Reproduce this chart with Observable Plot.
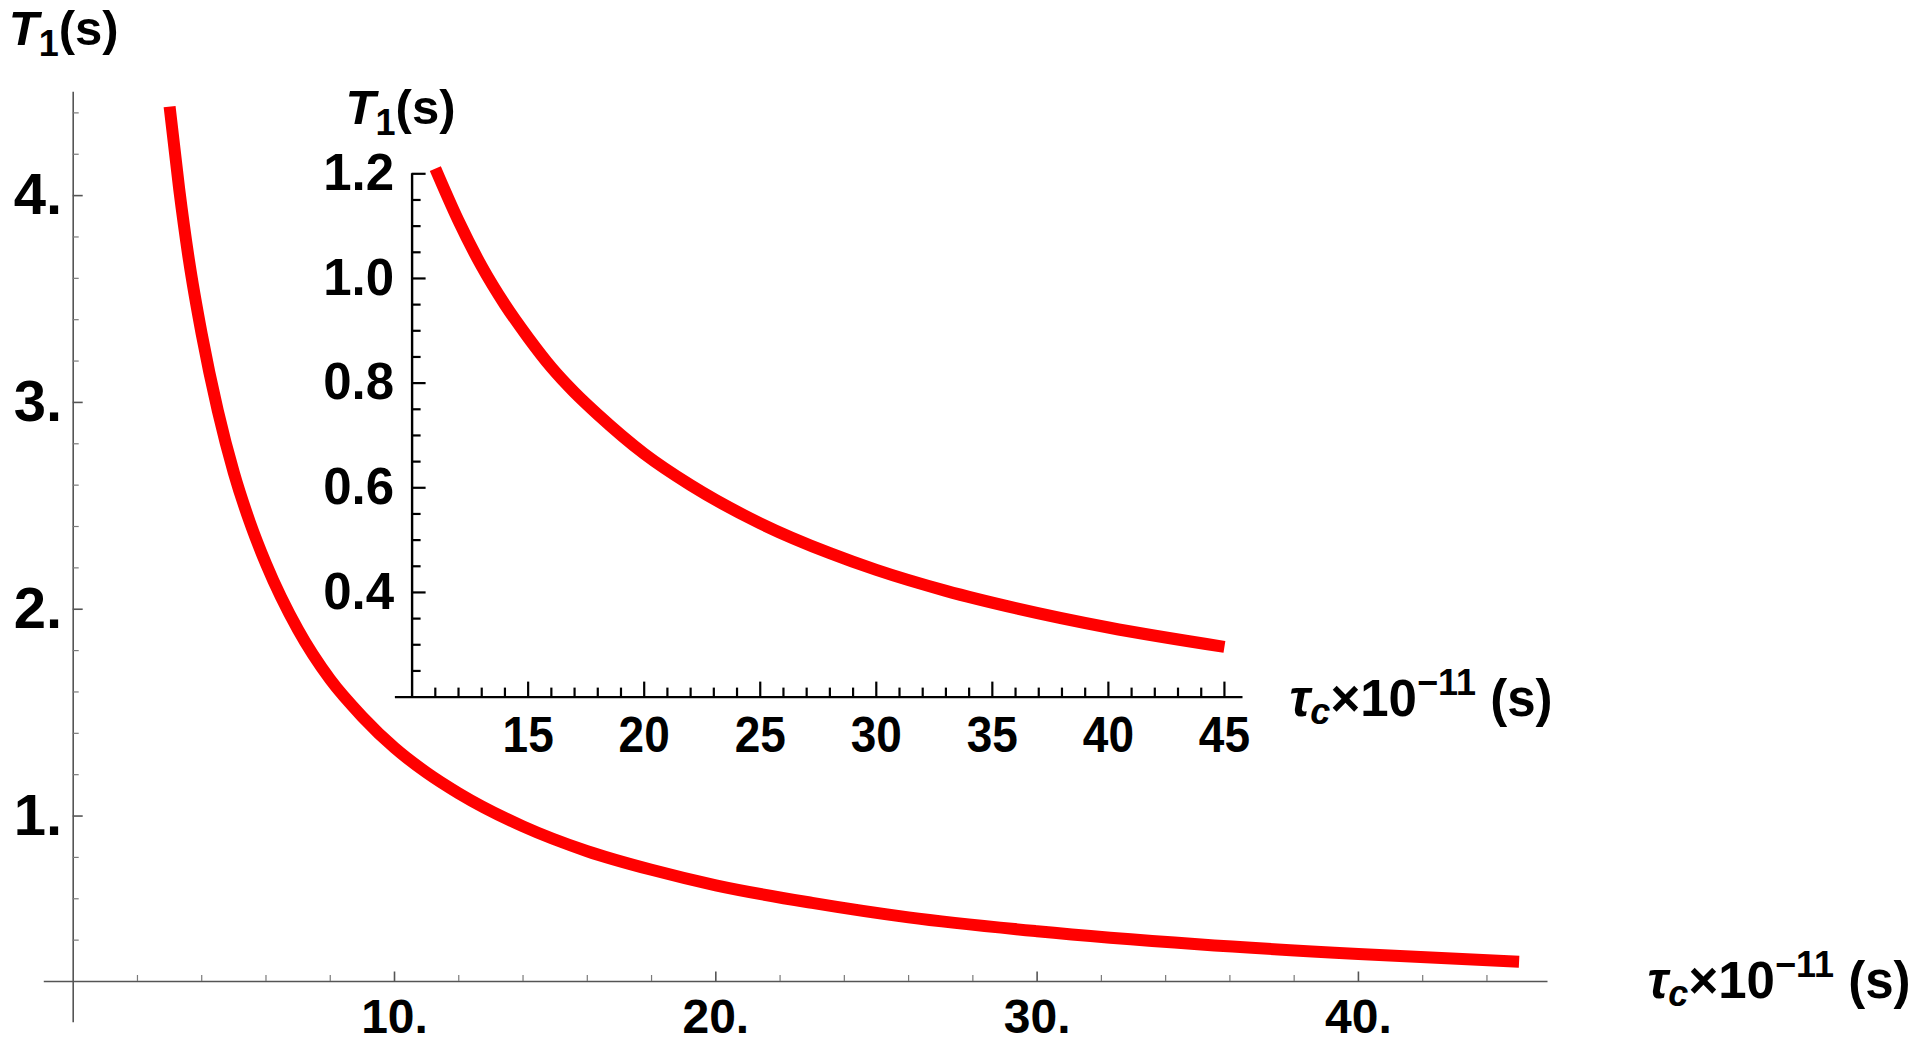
<!DOCTYPE html>
<html>
<head>
<meta charset="utf-8">
<script src="https://cdn.jsdelivr.net/npm/d3@7"></script>
<script src="https://cdn.jsdelivr.net/npm/@observablehq/plot@0.6"></script>
<style>
  html, body { margin: 0; padding: 0; background: #fff; }
  #wrap { position: relative; width: 1920px; height: 1045px; overflow: hidden; background: #fff; }
  #wrap svg { position: absolute; left: 0; top: 0; }
</style>
</head>
<body>
<div id="wrap"></div>
<script>
// ---------- data ----------
const mainTau = [3.0, 3.3, 3.6, 4.0, 4.5, 5.0, 5.5, 6.0, 7.0, 8.0, 9.0, 10.0, 11.0, 12.0, 14.0, 16.0, 18.0, 20.0, 23.0, 26.0, 30.0, 35.0, 40.0, 45.0];
const mainT1  = [4.43, 4.03, 3.69, 3.33, 2.96, 2.66, 2.42, 2.22, 1.90, 1.66, 1.48, 1.33, 1.21, 1.11, 0.95, 0.83, 0.74, 0.665, 0.58, 0.51, 0.443, 0.38, 0.333, 0.296];

const insetTau = [11.0, 12.0, 13.0, 14.0, 15.0, 16.0, 17.0, 18.0, 20.0, 22.0, 25.0, 28.0, 30.0, 33.0, 36.0, 40.0, 45.0];
const insetT1  = [1.21, 1.11, 1.023, 0.95, 0.887, 0.83, 0.782, 0.74, 0.665, 0.605, 0.532, 0.475, 0.443, 0.403, 0.37, 0.333, 0.296];

const mainXTicks = [10, 20, 30, 40];
const mainXTickLabels = ["10.", "20.", "30.", "40."];
const mainYTicks = [1, 2, 3, 4];
const mainYTickLabels = ["1.", "2.", "3.", "4."];

const insetXTicks = [15, 20, 25, 30, 35, 40, 45];
const insetXTickLabels = ["15", "20", "25", "30", "35", "40", "45"];
const insetYTicks = [0.4, 0.6, 0.8, 1.0, 1.2];
const insetYTickLabels = ["0.4", "0.6", "0.8", "1.0", "1.2"];

// minor ticks
const mainXMinor = d3.range(2, 46, 2).filter(v => v % 10 !== 0);
const mainYMinor = d3.range(2, 23).map(k => k / 5).filter(v => Math.abs(v - Math.round(v)) > 1e-6);
const insetXMinor = d3.range(11, 46).filter(v => v % 5 !== 0);
const insetYMinor = d3.range(5, 25).map(k => k / 20).filter(v => Math.abs(v * 5 - Math.round(v * 5)) > 1e-6);

const mainData = mainTau.map((t, i) => ({tau: t, t1: mainT1[i]}));
const insetData = insetTau.map((t, i) => ({tau: t, t1: insetT1[i]}));

// ---------- layout ----------
const W = 1920, H = 1045;
const FONT = "'Liberation Sans', Arial, Helvetica, sans-serif";
const RED = "#ff0000";

// main plot frame
const mL = 72.7, mR = 372.5, mT = 91.7, mB = 64;
const mFW = W - mL - mR, mFH = H - mT - mB;
const AX = "#555555", AXMINOR = "#7a7a7a";

const mainPlot = Plot.plot({
  width: W, height: H,
  marginLeft: mL, marginRight: mR, marginTop: mT, marginBottom: mB,
  style: {fontFamily: FONT, fontWeight: "bold", fontSize: "48px", color: "#000", background: "transparent", overflow: "visible"},
  x: {domain: [0, 45.9], ticks: mainXTicks, tickFormat: d => mainXTickLabels[mainXTicks.indexOf(d)], tickSize: 0, tickPadding: 17, label: null},
  y: {domain: [0.2, 4.5], ticks: mainYTicks, tickFormat: d => mainYTickLabels[mainYTicks.indexOf(d)], tickSize: 0, tickPadding: 11, label: null},
  marks: [
    Plot.ruleY([0.2], {x1: -0.9, x2: 45.9, stroke: AX, strokeWidth: 1.6}),
    Plot.ruleX([0], {y1: 0, y2: 4.5, stroke: AX, strokeWidth: 1.6}),
    Plot.tickX(mainXMinor, {x: d => d, insetTop: mFH - 6, stroke: AXMINOR, strokeWidth: 1.2}),
    Plot.tickX(mainXTicks, {x: d => d, insetTop: mFH - 9.5, stroke: AX, strokeWidth: 1.6}),
    Plot.tickY(mainYMinor, {y: d => d, insetRight: mFW - 6, stroke: AXMINOR, strokeWidth: 1.2}),
    Plot.tickY(mainYTicks, {y: d => d, insetRight: mFW - 10, stroke: AX, strokeWidth: 1.6}),
    Plot.line(mainData, {x: "tau", y: "t1", stroke: RED, strokeWidth: 12, curve: "monotone-x", strokeLinecap: "butt", strokeLinejoin: "round"})
  ]
});

// inset plot frame
const iL = 411.6, iR = 677.5, iT = 173.3, iB = 348.4;
const iFW = W - iL - iR, iFH = H - iT - iB;

const insetPlot = Plot.plot({
  width: W, height: H,
  marginLeft: iL, marginRight: iR, marginTop: iT, marginBottom: iB,
  style: {fontFamily: FONT, fontWeight: "bold", fontSize: "50px", color: "#000", background: "transparent", overflow: "visible"},
  x: {domain: [10, 45.8], ticks: insetXTicks, tickFormat: d => insetXTickLabels[insetXTicks.indexOf(d)], tickSize: 0, tickPadding: 19, label: null},
  y: {domain: [0.2, 1.2], ticks: insetYTicks, tickFormat: d => insetYTickLabels[insetYTicks.findIndex(v => Math.abs(v - d) < 1e-9)], tickSize: 0, tickPadding: 18, label: null},
  marks: [
    Plot.ruleY([0.2], {x1: 9.28, x2: 45.8, stroke: "#000", strokeWidth: 2.4}),
    Plot.ruleX([10], {y1: 0.2, y2: 1.2, stroke: "#000", strokeWidth: 2.4}),
    Plot.tickX(insetXMinor, {x: d => d, insetTop: iFH - 9, stroke: "#000", strokeWidth: 2.2}),
    Plot.tickX(insetXTicks, {x: d => d, insetTop: iFH - 15, stroke: "#000", strokeWidth: 2.2}),
    Plot.tickY(insetYMinor, {y: d => d, insetRight: iFW - 9, stroke: "#000", strokeWidth: 2.2}),
    Plot.tickY(insetYTicks, {y: d => d, insetRight: iFW - 14, stroke: "#000", strokeWidth: 2.2}),
    Plot.line(insetData, {x: "tau", y: "t1", stroke: RED, strokeWidth: 12, curve: "monotone-x", strokeLinecap: "butt", strokeLinejoin: "round"})
  ]
});

const wrap = document.getElementById("wrap");
wrap.appendChild(mainPlot);
wrap.appendChild(insetPlot);

// tick label styling
function styleTicks(svgNode, xSize, xScaleX, ySize) {
  const s = d3.select(svgNode);
  s.selectAll('g[aria-label^="x-axis"] text')
    .style("font-size", xSize + "px").style("font-weight", "bold").style("font-family", FONT).attr("fill", "#000")
    .attr("transform", function () { return (this.getAttribute("transform") || "") + ` scale(${xScaleX},1)`; });
  s.selectAll('g[aria-label^="y-axis"] text')
    .style("font-size", ySize + "px").style("font-weight", "bold").style("font-family", FONT).attr("fill", "#000");
}
styleTicks(mainPlot, 48, 1, 58);
styleTicks(insetPlot, 50, 0.92, 51);

// axis titles (real text with sub/superscripts)
function t1Label(svgNode, x, y) {
  const t = d3.select(svgNode).append("text")
    .attr("x", x).attr("y", y).attr("text-anchor", "start")
    .style("font-family", FONT).style("font-weight", "bold").style("font-size", "49px").attr("fill", "#000");
  t.append("tspan").style("font-style", "italic").text("T");
  t.append("tspan").style("font-size", "36px").attr("dy", 11).text("1");
  t.append("tspan").attr("dy", -11).text("(s)");
}
function tauLabel(svgNode, x, y) {
  const t = d3.select(svgNode).append("text")
    .attr("x", x).attr("y", y).attr("text-anchor", "start")
    .style("font-family", FONT).style("font-weight", "bold").style("font-size", "51px").attr("fill", "#000");
  t.append("tspan").style("font-style", "italic").text("τ");
  t.append("tspan").style("font-style", "italic").style("font-size", "36px").attr("dy", 8).text("c");
  t.append("tspan").attr("dy", -8).text("×10");
  t.append("tspan").style("font-size", "36px").attr("dy", -21).text("−11");
  t.append("tspan").attr("dy", 21).text("\u00a0(s)");
}

const mx = mainPlot.scale("x"), my = mainPlot.scale("y");
const ix = insetPlot.scale("x"), iy = insetPlot.scale("y");

t1Label(mainPlot, mx.apply(0) - 64, my.apply(4.5) - 47);
tauLabel(mainPlot, mx.apply(45.9) + 100, my.apply(0.2) + 17);
t1Label(insetPlot, ix.apply(10) - 66, iy.apply(1.2) - 49);
tauLabel(insetPlot, ix.apply(45.8) + 47, iy.apply(0.2) + 19);
</script>
</body>
</html>
